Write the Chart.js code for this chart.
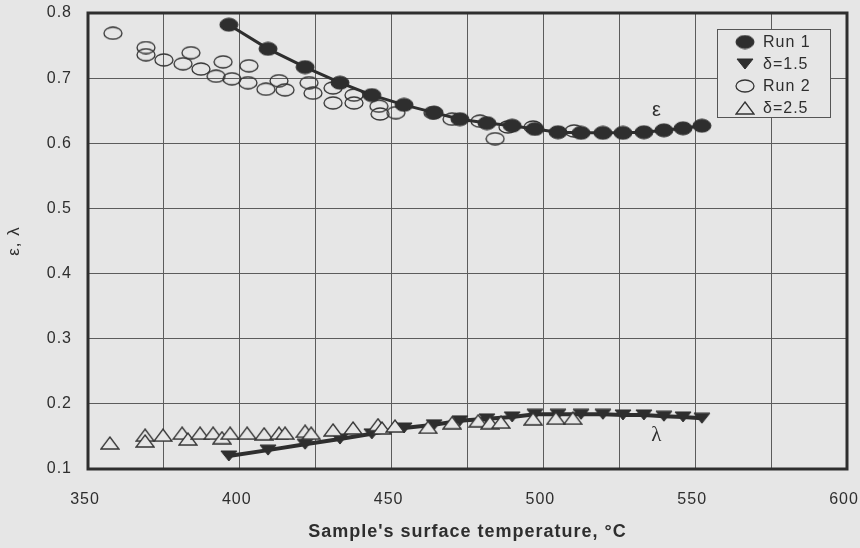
<!DOCTYPE html>
<html>
<head>
<meta charset="utf-8">
<title>Emissivity and conductivity vs surface temperature</title>
<script src="https://cdn.jsdelivr.net/npm/chart.js@4.4.1/dist/chart.umd.min.js"></script>
<style>
    html, body { margin: 0; padding: 0; background: #e6e6e6; }
    #wrap { width: 860px; height: 548px; }
</style>
</head>
<body>
<div id="wrap"><canvas id="epsChart" width="860" height="548"></canvas></div>
<script>
// values
const run1Temp = [396.4, 409.3, 421.5, 433.0, 443.5, 454.1, 464.0, 472.5, 481.4, 489.7,
                  497.2, 504.8, 512.4, 519.6, 526.2, 533.1, 539.7, 546.0, 552.2];
const run1Eps = [0.782, 0.745, 0.717, 0.693, 0.674, 0.659, 0.647, 0.637, 0.631, 0.627,
                 0.622, 0.617, 0.616, 0.616, 0.616, 0.617, 0.620, 0.623, 0.627];
const delta15Lambda = [0.120, 0.129, 0.138, 0.146, 0.154, 0.163, 0.168, 0.174, 0.177, 0.180,
                       0.184, 0.184, 0.184, 0.184, 0.183, 0.183, 0.181, 0.180, 0.178];

const run2Temp = [358.2, 369.1, 369.1, 375.0, 381.3, 383.9, 387.2, 392.2, 394.5, 397.4,
                  402.7, 403.0, 408.6, 412.9, 414.9, 422.8, 424.1, 430.7, 430.7, 437.6,
                  437.6, 445.8, 446.2, 451.4, 463.6, 469.9, 479.1, 484.1, 488.3, 496.6, 510.1];
const run2Eps = [0.769, 0.747, 0.736, 0.728, 0.722, 0.739, 0.714, 0.703, 0.725, 0.699,
                 0.693, 0.719, 0.683, 0.696, 0.682, 0.693, 0.677, 0.685, 0.662, 0.674,
                 0.662, 0.657, 0.645, 0.647, 0.647, 0.637, 0.634, 0.607, 0.625, 0.625, 0.619];

const delta25Temp = [357.2, 368.8, 368.8, 374.7, 381.0, 382.9, 386.9, 391.2, 394.1, 396.8,
                     402.4, 408.0, 412.9, 414.9, 421.5, 423.5, 430.7, 437.3, 445.5, 446.8,
                     451.1, 462.0, 469.9, 478.5, 482.4, 486.0, 496.6, 504.1, 509.7];
const delta25Lambda = [0.140, 0.152, 0.143, 0.152, 0.155, 0.146, 0.155, 0.155, 0.148, 0.155,
                       0.155, 0.154, 0.155, 0.155, 0.158, 0.155, 0.160, 0.163, 0.168, 0.163,
                       0.166, 0.164, 0.171, 0.174, 0.171, 0.172, 0.177, 0.178, 0.178];

const xLabelled = [350, 400, 450, 500, 550, 600];
const legendLabels = ['Run 1', 'δ=1.5', 'Run 2', 'δ=2.5'];

const BG = '#e6e6e6';
const INK = '#2e2e2e';
const FONT = "'Liberation Sans', Arial, sans-serif";

// marker images (ellipses and flat triangles like the original)
function makeMarker(shape, w, h, fill, stroke, lw) {
    const c = document.createElement('canvas');
    c.width = w + 2;
    c.height = h + 2;
    const g = c.getContext('2d');
    const cx = c.width / 2, cy = c.height / 2;
    g.beginPath();
    if (shape === 'ellipse') {
        g.ellipse(cx, cy, w / 2, h / 2, 0, 0, Math.PI * 2);
    } else if (shape === 'up') {
        g.moveTo(cx, cy - h / 2);
        g.lineTo(cx + w / 2, cy + h / 2);
        g.lineTo(cx - w / 2, cy + h / 2);
        g.closePath();
    } else {
        g.moveTo(cx - w / 2, cy - h / 2);
        g.lineTo(cx + w / 2, cy - h / 2);
        g.lineTo(cx, cy + h / 2);
        g.closePath();
    }
    if (fill) { g.fillStyle = fill; g.fill(); }
    if (stroke) { g.lineWidth = lw; g.strokeStyle = stroke; g.stroke(); }
    return c;
}

const dotFilled = makeMarker('ellipse', 18, 13, INK, INK, 1);
const triDown = makeMarker('down', 16, 10, INK, INK, 1);
const dotOpen = makeMarker('ellipse', 18, 12, null, '#333', 1.3);
const triOpen = makeMarker('up', 18, 12, BG, '#333', 1.3);
const markers = [dotFilled, triDown, dotOpen, triOpen];

function pairs(xs, ys) {
    return xs.map((x, i) => ({ x: x, y: ys[i] }));
}

// no extra label overflow padding, so the plot box lands where the original is
function fixBox(scale, key, size) {
    scale[key] = size;
    scale.paddingTop = 0;
    scale.paddingBottom = 0;
    scale.paddingLeft = 0;
    scale.paddingRight = 0;
}

// frame, inside legend, curve labels
const extrasPlugin = {
    id: 'extras',
    beforeDraw(chart) {
        chart.ctx.letterSpacing = '1px';
    },
    afterDraw(chart) {
        const ctx = chart.ctx;
        const a = chart.chartArea;
        const xs = chart.scales.x, ys = chart.scales.y;

        ctx.save();
        ctx.strokeStyle = INK;
        ctx.lineWidth = 3;
        ctx.strokeRect(a.left, a.top, a.right - a.left, a.bottom - a.top);

        // curve labels
        ctx.fillStyle = INK;
        ctx.textAlign = 'center';
        ctx.textBaseline = 'middle';
        ctx.font = "20px 'Liberation Sans', Arial, sans-serif";
        ctx.fillText('ε', xs.getPixelForValue(537.4), ys.getPixelForValue(0.651));
        ctx.font = "21px 'Liberation Serif', 'Times New Roman', serif";
        ctx.fillText('λ', xs.getPixelForValue(537.4), ys.getPixelForValue(0.152));

        // legend box
        const bx = a.right - 130, by = a.top + 16, bw = 113, bh = 88;
        ctx.fillStyle = BG;
        ctx.fillRect(bx, by, bw, bh);
        ctx.lineWidth = 1;
        ctx.strokeStyle = '#555';
        ctx.strokeRect(bx + 0.5, by + 0.5, bw, bh);
        ctx.font = '16px ' + FONT;
        ctx.textAlign = 'left';
        ctx.fillStyle = INK;
        legendLabels.forEach((label, i) => {
            const ry = by + 13 + i * 22;
            const m = markers[i];
            ctx.drawImage(m, bx + 28 - m.width / 2, ry - m.height / 2);
            ctx.fillText(label, bx + 46, ry + 1);
        });
        ctx.restore();
    }
};

Chart.defaults.font.family = FONT;
Chart.defaults.color = INK;

new Chart(document.getElementById('epsChart'), {
    type: 'scatter',
    data: {
        datasets: [
            {
                label: legendLabels[0],
                data: pairs(run1Temp, run1Eps),
                showLine: true,
                borderColor: INK,
                borderWidth: 3,
                pointStyle: dotFilled,
                pointRadius: 8,
                order: 0
            },
            {
                label: legendLabels[1],
                data: pairs(run1Temp, delta15Lambda),
                showLine: true,
                borderColor: INK,
                borderWidth: 4,
                pointStyle: triDown,
                pointRadius: 8,
                order: 2
            },
            {
                label: legendLabels[2],
                data: pairs(run2Temp, run2Eps),
                pointStyle: dotOpen,
                pointRadius: 8,
                order: 3
            },
            {
                label: legendLabels[3],
                data: pairs(delta25Temp, delta25Lambda),
                pointStyle: triOpen,
                pointRadius: 8,
                order: 1
            }
        ]
    },
    options: {
        responsive: false,
        animation: false,
        layout: { padding: { top: 13, right: 13, left: 0, bottom: 0 } },
        plugins: {
            legend: { display: false },
            tooltip: { enabled: false }
        },
        scales: {
            x: {
                type: 'linear',
                min: 350,
                max: 600,
                afterFit: scale => fixBox(scale, 'height', 79),
                border: { display: false },
                grid: { color: '#5c5c5c', lineWidth: 1, drawTicks: false },
                ticks: {
                    stepSize: 25,
                    padding: 21,
                    autoSkip: false,
                    maxRotation: 0,
                    labelOffset: -3,
                    font: { size: 16 },
                    callback: v => xLabelled.includes(v) ? String(v) : ''
                },
                title: {
                    display: true,
                    text: "Sample's surface temperature, °C",
                    font: { size: 18, weight: 'bold' },
                    padding: { top: 0, bottom: 5 }
                }
            },
            y: {
                type: 'linear',
                min: 0.1,
                max: 0.8,
                afterFit: scale => fixBox(scale, 'width', 88),
                border: { display: false },
                grid: { color: '#5c5c5c', lineWidth: 1, drawTicks: false },
                ticks: {
                    stepSize: 0.1,
                    padding: 16,
                    font: { size: 16 },
                    callback: v => v.toFixed(1)
                },
                title: {
                    display: true,
                    text: 'ε, λ',
                    font: { size: 17 },
                    padding: { top: 4, bottom: 0 }
                }
            }
        }
    },
    plugins: [extrasPlugin]
});
</script>
</body>
</html>
